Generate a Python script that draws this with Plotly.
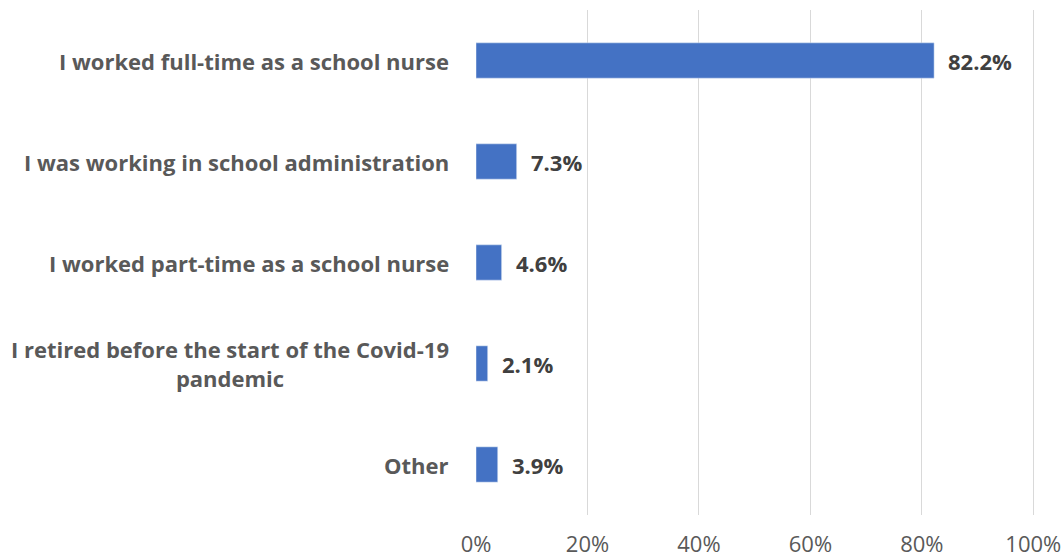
import plotly.graph_objects as go

categories = [
    "I worked full-time as a school nurse",
    "I was working in school administration",
    "I worked part-time as a school nurse",
    "I retired before the start of the Covid-19<br>pandemic",
    "Other",
]
values = [82.2, 7.3, 4.6, 2.1, 3.9]
value_labels = ["82.2%", "7.3%", "4.6%", "2.1%", "3.9%"]
tick_vals = [0, 20, 40, 60, 80, 100]
tick_text = ["0%", "20%", "40%", "60%", "80%", "100%"]

FONT = "Open Sans, Liberation Sans, sans-serif"

fig = go.Figure(go.Bar(
    x=values,
    y=categories,
    orientation="h",
    marker=dict(color="#4472C4"),
    width=0.35,
    hoverinfo="skip",
))

annotations = []
for cat in categories:
    annotations.append(dict(
        x=0, xref="paper", y=cat, yref="y", text=cat,
        xanchor="right", yanchor="middle", align="center",
        xshift=-25, showarrow=False,
        font=dict(family=FONT, size=22, color="#595959", weight="bold"),
    ))
for cat, v, lab in zip(categories, values, value_labels):
    annotations.append(dict(
        x=v, xref="x", y=cat, yref="y", text=lab,
        xanchor="left", yanchor="middle", xshift=12, showarrow=False,
        font=dict(family=FONT, size=22, color="#404040", weight="bold"),
    ))

fig.update_layout(
    width=1064, height=560,
    margin=dict(l=476, r=29, t=10, b=45, autoexpand=False),
    paper_bgcolor="white", plot_bgcolor="white",
    showlegend=False,
    annotations=annotations,
    xaxis=dict(
        range=[0, 100.3], tickvals=tick_vals, ticktext=tick_text,
        showgrid=True, gridcolor="#D9D9D9", gridwidth=1,
        zeroline=False, showline=False, ticks="",
        automargin=False, ticklabeloverflow="allow",
        ticklabelstandoff=14,
        tickfont=dict(family=FONT, size=22, color="#595959"),
    ),
    yaxis=dict(
        categoryorder="array", categoryarray=categories,
        autorange="reversed", showticklabels=False, automargin=False,
        showgrid=False, zeroline=False, showline=False, ticks="",
    ),
)

fig.write_html(
    "out.html",
    config={"displayModeBar": False, "staticPlot": True},
    post_script=(
        "document.body.style.margin='0';"
        "document.body.style.overflow='hidden';"
        "document.documentElement.style.overflow='hidden';"
    ),
)
